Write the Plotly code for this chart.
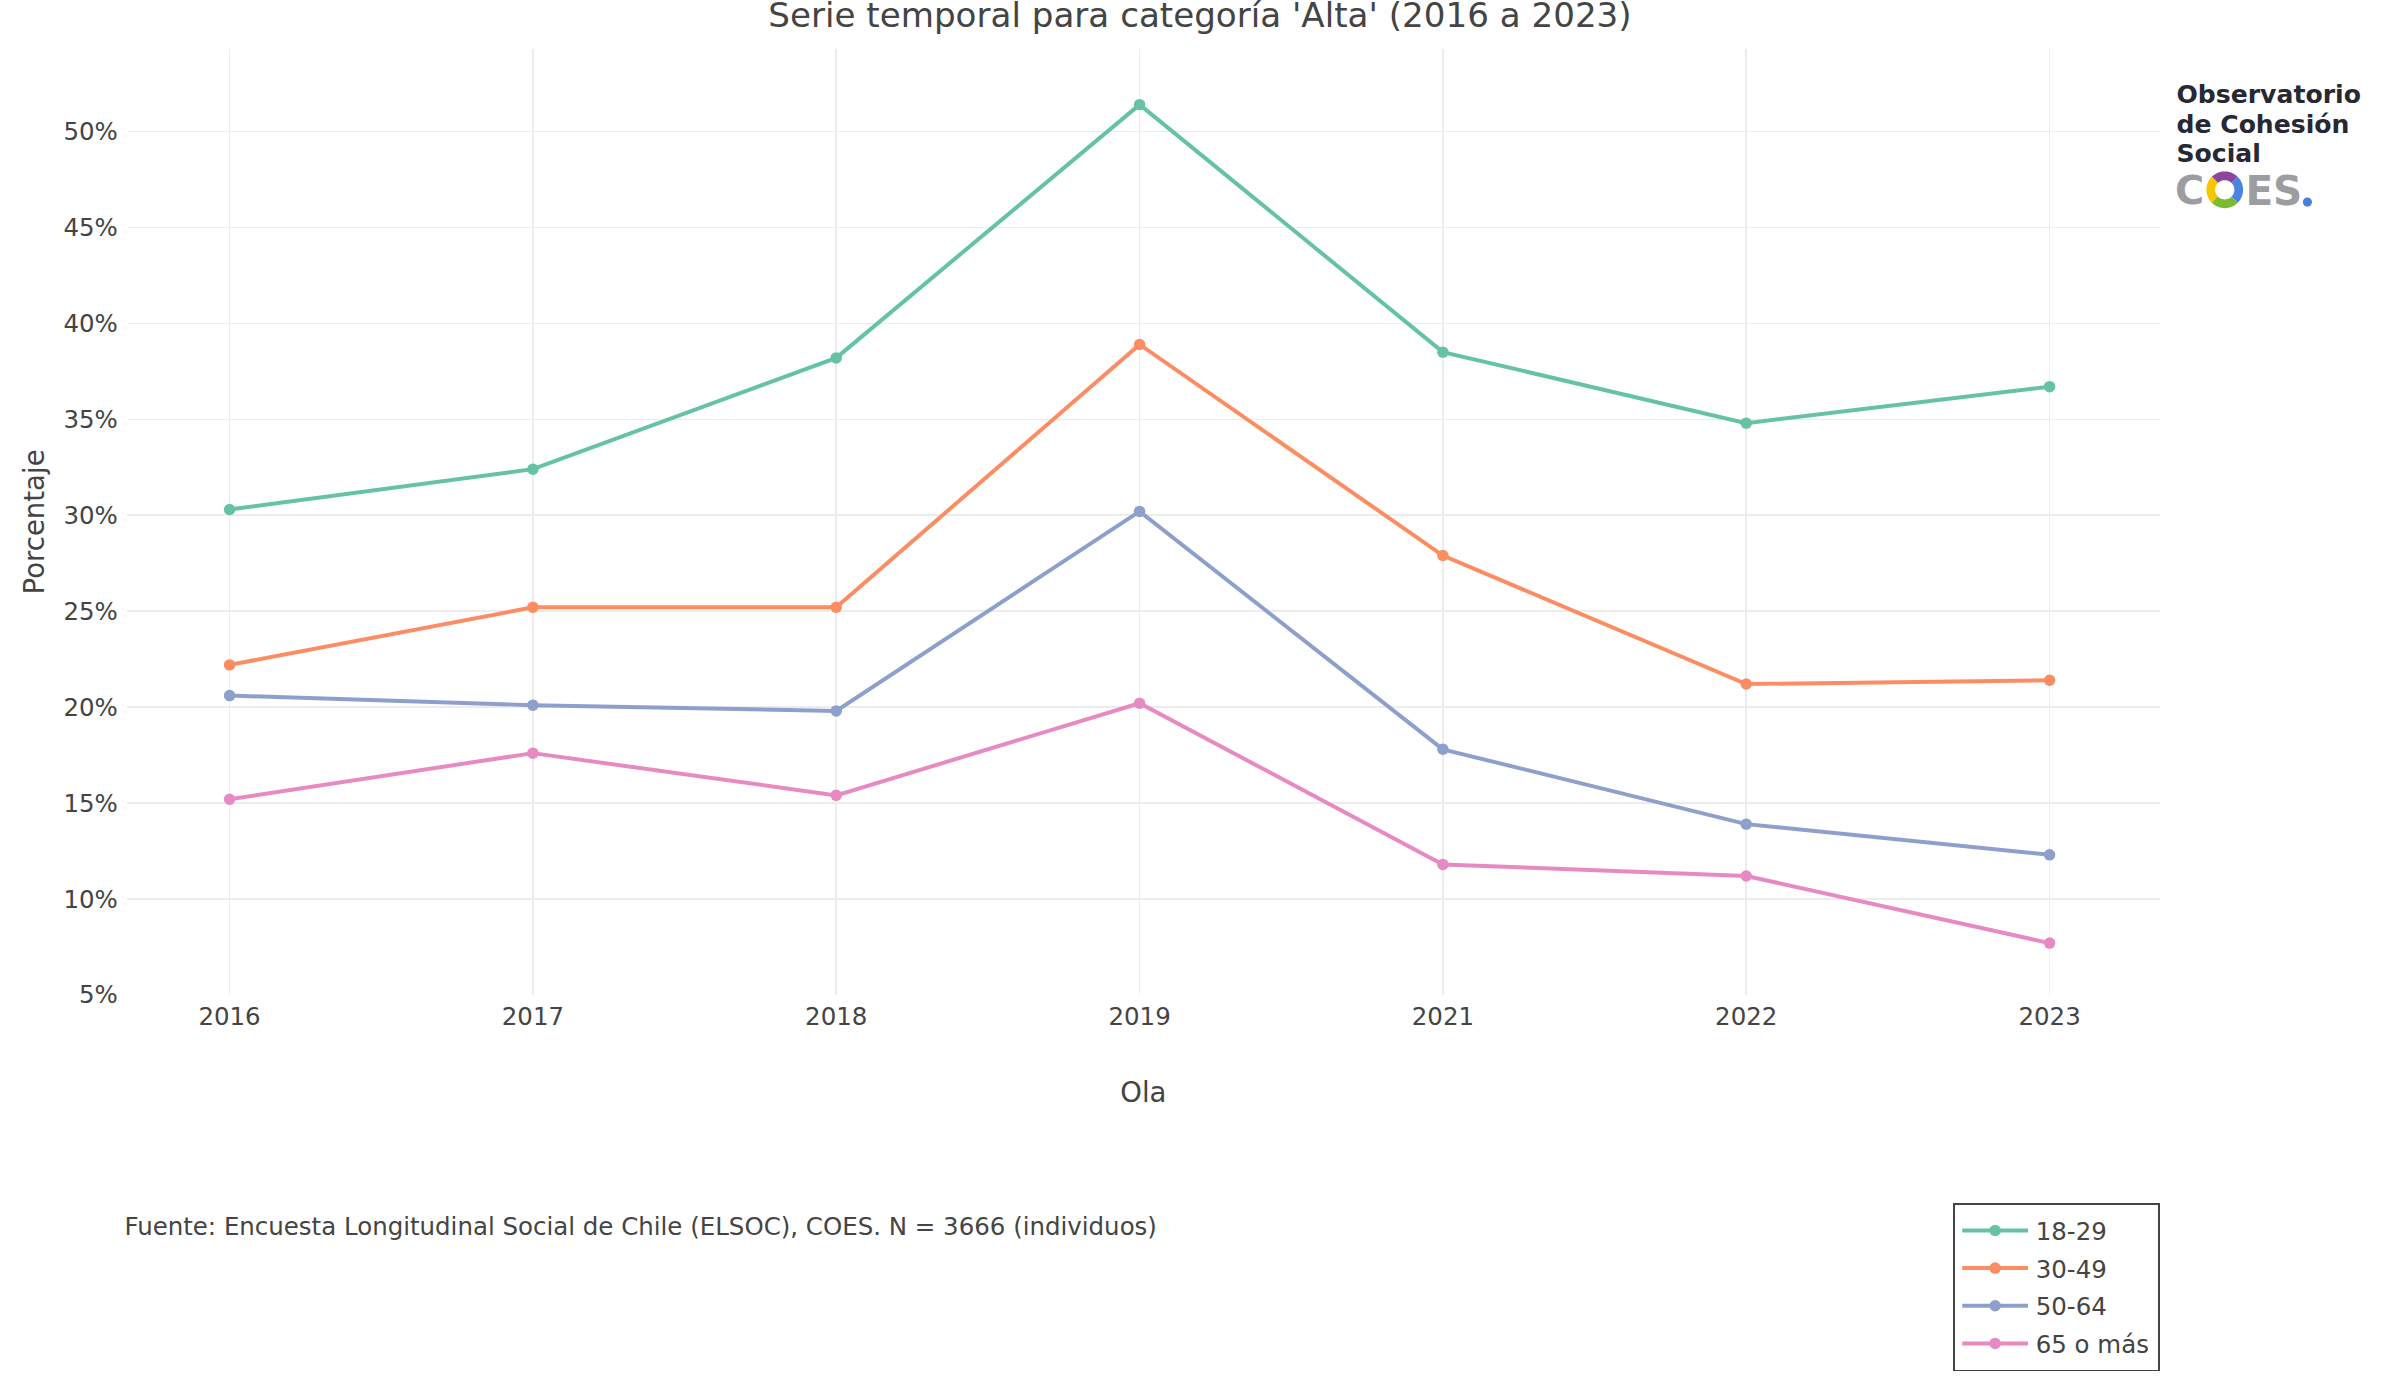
import math
import plotly.graph_objects as go

olas = ["2016", "2017", "2018", "2019", "2021", "2022", "2023"]
grupos = ["18-29", "30-49", "50-64", "65 o más"]
v_18_29 = [30.3, 32.4, 38.2, 51.4, 38.5, 34.8, 36.7]
v_30_49 = [22.2, 25.2, 25.2, 38.9, 27.9, 21.2, 21.4]
v_50_64 = [20.6, 20.1, 19.8, 30.2, 17.8, 13.9, 12.3]
v_65_mas = [15.2, 17.6, 15.4, 20.2, 11.8, 11.2, 7.7]
series = [v_18_29, v_30_49, v_50_64, v_65_mas]
colores = ["#66c2a5", "#fc8d62", "#8da0cb", "#e78ac3"]

# Layout drawn at 1568 x 914 and shown at 1.5306x in the 2400 x 1400 window
SCALE = 2400 / 1568
W, H = 1568, 914
ML, MR, MT, MB = 83, 157, 32, 264
PW, PH = W - ML - MR, H - MT - MB

def px_x(x):
    return (x - ML) / PW

def px_y(y):
    return (H - MB - y) / PH

fig = go.Figure()
for name, vals, col in zip(grupos, series, colores):
    fig.add_trace(go.Scatter(
        x=olas, y=vals, name=name, mode="lines+markers", legendgroup=name,
        line=dict(color=col, width=2.6),
        marker=dict(color=col, size=7.5),
    ))

font_fam = "Verdana, DejaVu Sans, sans-serif"
logo_font = "DejaVu Sans, sans-serif"

annotations = [
    dict(text="Fuente: Encuesta Longitudinal Social de Chile (ELSOC), COES. N = 3666 (individuos)",
         xref="paper", yref="paper", x=px_x(79), y=px_y(801), xanchor="left", yanchor="middle",
         showarrow=False, font=dict(size=16, color="#444", family=font_fam)),
]

# Logo (Observatorio de Cohesión Social - COES)
for txt, yy in [("Observatorio", 62), ("de Cohesión", 81), ("Social", 100)]:
    annotations.append(dict(text="<b>%s</b>" % txt, xref="paper", yref="paper",
                            x=px_x(1420), y=px_y(yy), xanchor="left", yanchor="middle",
                            showarrow=False, font=dict(size=16.4, color="#262833", family=logo_font)))
annotations.append(dict(text="<b>C</b>", xref="paper", yref="paper", x=px_x(1419), y=px_y(124),
                        xanchor="left", yanchor="middle", showarrow=False,
                        font=dict(size=26, color="#9c9da1", family=logo_font)))
annotations.append(dict(text="<b>ES</b>", xref="paper", yref="paper", x=px_x(1465), y=px_y(124),
                        xanchor="left", yanchor="middle", showarrow=False,
                        font=dict(size=26.5, color="#9c9da1", family=logo_font)))

shapes = []
cx, cy = 1453.5, 124
r_out, r_in = 12, 6.3
ring_cols = [("#8b479e", 45, 135), ("#f6c400", 135, 225), ("#7cba2f", 225, 315), ("#4a84e2", -45, 45)]
for col, a0, a1 in ring_cols:
    pts = []
    n = 12
    for i in range(n + 1):
        a = math.radians(a0 + (a1 - a0) * i / n)
        pts.append((r_out * math.cos(a), r_out * math.sin(a)))
    for i in range(n, -1, -1):
        a = math.radians(a0 + (a1 - a0) * i / n)
        pts.append((r_in * math.cos(a), r_in * math.sin(a)))
    path = "M " + " L ".join("%.2f,%.2f" % p for p in pts) + " Z"
    shapes.append(dict(type="path", xref="paper", yref="paper", xsizemode="pixel", ysizemode="pixel",
                       xanchor=px_x(cx), yanchor=px_y(cy), path=path,
                       fillcolor=col, line=dict(width=0)))
shapes.append(dict(type="circle", xref="paper", yref="paper", xsizemode="pixel", ysizemode="pixel",
                   xanchor=px_x(1507.5), yanchor=px_y(132), x0=-3, x1=3, y0=-3, y1=3,
                   fillcolor="#4a7fe0", line=dict(width=0)))

fig.update_layout(
    width=W, height=H,
    margin=dict(l=ML, r=MR, t=MT, b=MB, autoexpand=False),
    paper_bgcolor="white", plot_bgcolor="white",
    font=dict(family=font_fam, size=16, color="#444"),
    title=dict(text="Serie temporal para categoría 'Alta' (2016 a 2023)", x=0.5, xanchor="center",
               y=1 - 10 / H, yanchor="middle", font=dict(size=22.3, color="#444", family=font_fam)),
    xaxis=dict(type="category", range=[-0.338, 6.363], showgrid=True, gridcolor="#ececec", gridwidth=1,
               zeroline=False, tickfont=dict(size=16), ticklabelstandoff=3,
               title=dict(text="Ola", font=dict(size=18), standoff=34)),
    yaxis=dict(range=[5, 54.3], dtick=5, ticksuffix="%", showgrid=True, gridcolor="#ececec", gridwidth=1,
               zeroline=False, tickfont=dict(size=16), ticklabelstandoff=5,
               title=dict(text="Porcentaje", font=dict(size=18), standoff=7)),
    legend=dict(x=1, xanchor="right", y=px_y(786), yanchor="top", bordercolor="#444", borderwidth=1,
                font=dict(size=16), bgcolor="white", itemwidth=43, tracegroupgap=0.8),
    annotations=annotations,
    shapes=shapes,
    showlegend=True,
)

post = (
    "document.body.style.margin='0';"
    "document.body.style.overflow='hidden';"
    "var gd=document.getElementById('{plot_id}');"
    "gd.style.zoom='%.5f';" % SCALE
)
fig.write_html("out.html", post_script=post, config={"displayModeBar": False})
